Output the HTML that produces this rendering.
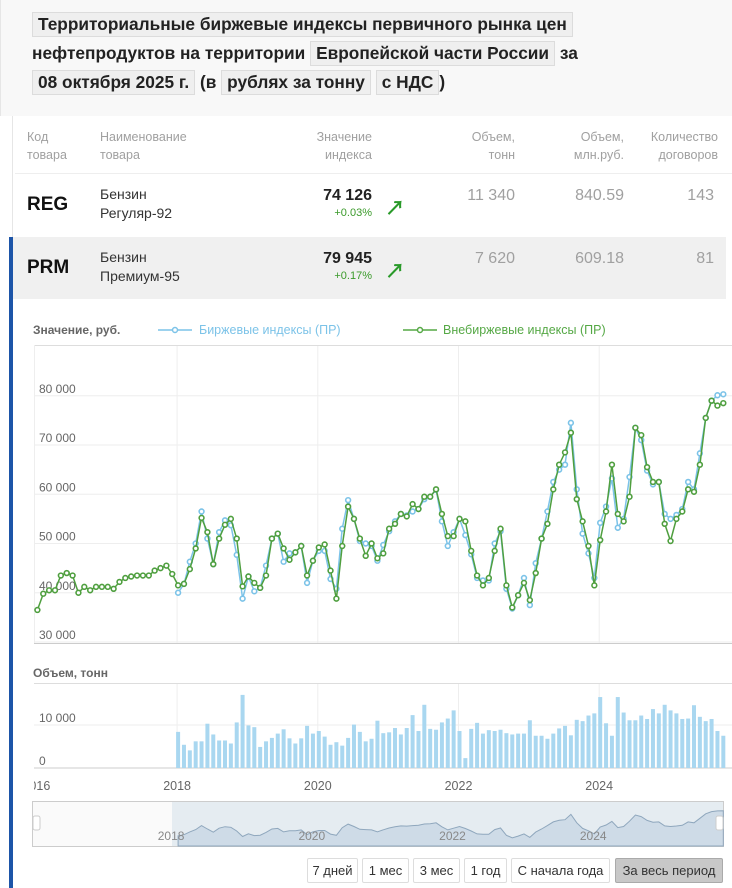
<!DOCTYPE html>
<html><head><meta charset="utf-8">
<style>
*{margin:0;padding:0;box-sizing:border-box}
body{width:732px;height:888px;overflow:hidden;background:#fff;font-family:"Liberation Sans","Noto Sans CJK SC",sans-serif;position:relative}
.abs{position:absolute}
.hdr{left:0;top:0;width:732px;height:116px;background:#f8f8f8;border-left:1px solid #e6e6e6}
.line{position:absolute;left:32px;font-size:17.3px;font-weight:bold;color:#222;white-space:nowrap;letter-spacing:0}
.box{display:inline-block;background:#efefef;border:1px solid #dcdcdc;padding:1px 5px}
.th{font-size:12.5px;color:#a0a0a0;line-height:18px}
.r{text-align:right}
.num{font-size:16px;color:#a0a0a0}
.btn{position:absolute;top:858px;height:25px;border:1px solid #ddd;background:#fff;font-size:13px;color:#333;text-align:center;line-height:23px;border-radius:2px}
</style></head><body>
<div class="abs hdr"></div>
<div class="line" style="top:12px"><span class="box">Территориальные биржевые индексы первичного рынка цен</span></div>
<div class="line" style="top:41px">нефтепродуктов на территории <span class="box">Европейской части России</span> за</div>
<div class="line" style="top:70px"><span class="box">08 октября 2025 г.</span> (в <span class="box">рублях за тонну</span> <span class="box">с НДС</span>)</div>

<div class="abs" style="left:12px;top:116px;width:1px;height:121px;background:#e6e6e6"></div>
<div class="abs" style="left:9px;top:237px;width:4px;height:651px;background:#1d55a8"></div>

<div class="abs th" style="left:27px;top:128px">Код<br>товара</div>
<div class="abs th" style="left:100px;top:128px">Наименование<br>товара</div>
<div class="abs th r" style="left:272px;width:100px;top:128px">Значение<br>индекса</div>
<div class="abs th r" style="left:415px;width:100px;top:128px">Объем,<br>тонн</div>
<div class="abs th r" style="left:524px;width:100px;top:128px">Объем,<br>млн.руб.</div>
<div class="abs th r" style="left:618px;width:100px;top:128px">Количество<br>договоров</div>
<div class="abs" style="left:15px;top:173px;width:717px;height:1px;background:#eee"></div>

<div class="abs" style="left:15px;top:174px;width:711px;height:62px">
<div class="abs" style="left:12px;top:20px;font-size:19px;font-weight:bold;color:#111">REG</div>
<div class="abs" style="left:85px;top:11px;font-size:14px;color:#333;line-height:19px">Бензин<br>Регуляр-92</div>
<div class="abs r" style="left:257px;width:100px;top:13px;font-size:16px;font-weight:bold;color:#222">74 126</div>
<div class="abs r" style="left:257px;width:100px;top:33px;font-size:11px;color:#3a9a2a">+0.03%</div>
<div class="abs" style="left:370px;top:18px;font-size:20px;font-weight:bold;color:#2a9a2a">&#8599;</div>
<div class="abs r num" style="left:400px;width:100px;top:13px">11 340</div>
<div class="abs r num" style="left:509px;width:100px;top:13px">840.59</div>
<div class="abs r num" style="left:599px;width:100px;top:13px">143</div>
</div>
<div class="abs" style="left:13px;top:237px;width:713px;height:62px;background:#f0f0f0">
<div class="abs" style="left:14px;top:20px;font-size:19px;font-weight:bold;color:#111">PRM</div>
<div class="abs" style="left:87px;top:11px;font-size:14px;color:#333;line-height:19px">Бензин<br>Премиум-95</div>
<div class="abs r" style="left:259px;width:100px;top:13px;font-size:16px;font-weight:bold;color:#222">79 945</div>
<div class="abs r" style="left:259px;width:100px;top:33px;font-size:11px;color:#3a9a2a">+0.17%</div>
<div class="abs" style="left:372px;top:18px;font-size:20px;font-weight:bold;color:#2a9a2a">&#8599;</div>
<div class="abs r num" style="left:402px;width:100px;top:13px">7 620</div>
<div class="abs r num" style="left:511px;width:100px;top:13px">609.18</div>
<div class="abs r num" style="left:601px;width:100px;top:13px">81</div>
</div>

<svg id="chart" class="abs" style="left:0;top:0" width="732" height="888" font-family="Liberation Sans, sans-serif">
<defs><clipPath id="plotclip"><rect x="34" y="300" width="698" height="500"/></clipPath></defs>
</svg>

<div class="btn" style="left:307px;width:51px">7 дней</div>
<div class="btn" style="left:362px;width:47px">1 мес</div>
<div class="btn" style="left:413px;width:47px">3 мес</div>
<div class="btn" style="left:464px;width:43px">1 год</div>
<div class="btn" style="left:511px;width:99px">С начала года</div>
<div class="btn" style="left:615px;width:108px;background:#c8c8c8;border-color:#aaa">За весь период</div>

<script>
// Monthly series, Jan 2016 .. Oct 2025
const startYear = 2016;
const otcValues = [36.5,39.8,40.5,40.5,43.5,44,43.5,40,41.2,40.5,41.2,41.2,
41.2,40.8,42.2,43,43.3,43.5,43.5,43.5,44.5,45,45.5,43.8,
41.5,41.8,44.8,49,55.2,52.3,45.8,51,53.8,55,51,41.3,
43.3,42,41,43.5,51,52,49,46.7,48.2,49.5,43.5,46.5,
49.2,49.8,44.5,38.8,49.5,57.5,55,51,47.5,50,47,48,
53,54,56,55.5,58,57,59.5,59.5,61,56,51.5,51.5,
55,54.5,48.5,43.5,41.5,43,48.5,53,41.5,37,39.5,42,
38.5,44,51,54,61,66,68.5,72.5,59,54.5,49.5,41.5,
50.7,56.5,66,56,54.5,59.5,73.5,72,65.5,62.5,62.5,54,
50.5,55,56.5,61,60.5,66,75.5,79,78,78.5];
const exchValues = [null,null,null,null,null,null,null,null,null,null,null,null,
null,null,null,null,null,null,null,null,null,null,null,null,
40,41.8,46.3,50,56.5,51,45.8,52.3,54.7,53.7,47.7,38.8,
43.3,40.3,41,45.5,51,52,46.3,48,48.2,49.5,42,46.5,
48.5,48.5,42.8,40.8,53,58.8,55,50.5,50,49.5,46.5,49.7,
52.5,54.5,56,55.7,56.5,57,59,59.5,60.9,54.5,49.5,52.3,
55,51.7,47.8,43,42.5,42.5,50,52.5,40.8,36.8,39.5,43,
37.5,46,51,56.5,62.5,65,66,74.5,61,52,48,43,
54.2,57.5,63.2,53.2,55,63.5,73.5,71,64.8,62,62.5,56,
55,55.8,57,62.5,61,68.3,75.5,79,80.1,80.3];
// Volume, thousand tonnes, monthly from Jan 2018
const volStartIndex = 24;
const volValues = [8.4,5.4,4.1,6.2,6.2,10.3,7.8,6.4,6.4,5.7,10.6,17,
9.9,9.5,4.9,6.2,7,8,9,6.9,5.7,6.9,9.8,8,
8.6,7.3,5.4,6,5.2,7,10.1,8.4,6.2,6.8,11,8.1,
8.3,9.3,7.8,9.3,12.3,8.6,14.7,9.1,8.9,10.6,11.5,13.4,
8.6,2.3,9.1,10.5,8,8.8,8.6,8.9,8.1,7.8,8,8,
11.1,7.5,7.5,6.8,8,9.2,9.8,7.6,11.2,10.9,12.2,12.7,
16.5,10.4,7.5,16.5,12.9,11.1,11.1,12.2,11.4,13.7,12.7,14.7,
13.4,12.7,11.4,11.5,14.6,11.9,10.9,11.4,8.6,7.5];
const priceTicks = [30,40,50,60,70,80];
const priceTickLabels = ["30 000","40 000","50 000","60 000","70 000","80 000"];
const yearTicks = [2016,2018,2020,2022,2024];
const volTicks = [0,10];
const volTickLabels = ["0","10 000"];

const svg = document.getElementById('chart');
const NS = 'http://www.w3.org/2000/svg';
function mk(tag, attrs, parent){const e=document.createElementNS(NS,tag);for(const k in attrs)e.setAttribute(k,attrs[k]);(parent||svg).appendChild(e);return e;}
const xT = t => 36.4 + (t - startYear) * 70.35;
const xM = i => xT(startYear + i/12) + 1;
const yP = v => 642 - (v - 30) * 4.925;
const yV = v => 768 - v * 4.3;
const L = 34, R = 732;

mk('line',{x1:L,x2:R,y1:345.5,y2:345.5,stroke:'#ddd'});
mk('line',{x1:L+0.5,x2:L+0.5,y1:345,y2:644,stroke:'#eee'});
mk('line',{x1:L,x2:R,y1:643.5,y2:643.5,stroke:'#ccc'});
priceTicks.forEach((v,i)=>{
  const g=mk('line',{x1:L,x2:R,y1:yP(v),y2:yP(v),stroke:'#eeeeee'});
  
  
  const t=mk('text',{x:39,y:yP(v)-3,'font-size':12,fill:'#666'});
  t.textContent=priceTickLabels[i];
  
  
});
yearTicks.forEach(yr=>{
  if(yr===2016) return;
  mk('line',{x1:xT(yr),x2:xT(yr),y1:346,y2:643,stroke:'#eeeeee'});
  mk('line',{x1:xT(yr),x2:xT(yr),y1:684,y2:768,stroke:'#eeeeee'});
});
let t=mk('text',{x:33,y:334,'font-size':12,'font-weight':'bold',fill:'#666'});t.textContent='Значение, руб.';


mk('line',{x1:158,x2:192,y1:330,y2:330,stroke:'#7cc3e8','stroke-width':1.5});
mk('circle',{cx:175,cy:330,r:2.5,fill:'#fff',stroke:'#7cc3e8','stroke-width':1.5});
t=mk('text',{x:199,y:334,'font-size':12.5,fill:'#7cc3e8'});t.textContent='Биржевые индексы (ПР)';


mk('line',{x1:403,x2:437,y1:330,y2:330,stroke:'#55a845','stroke-width':1.5});
mk('circle',{cx:420,cy:330,r:2.5,fill:'#fff',stroke:'#55a845','stroke-width':1.5});
t=mk('text',{x:443,y:334,'font-size':12.5,fill:'#55a845'});t.textContent='Внебиржевые индексы (ПР)';



function drawSeries(vals,color,name){
  let d='';let pen=false;
  vals.forEach((v,i)=>{ if(v==null){pen=false;return;} d+=(pen?'L':'M')+xM(i).toFixed(1)+' '+yP(v).toFixed(1); pen=true;});
  const p=mk('path',{d:d,fill:'none',stroke:color,'stroke-width':1.5});
  
  
  vals.forEach((v,i)=>{ if(v==null)return;
    const c=mk('circle',{cx:xM(i),cy:yP(v),r:2.4,fill:'#fff',stroke:color,'stroke-width':1.6});
    
    
  });
}
drawSeries(exchValues,'#7cc3e8','exchange-index');
drawSeries(otcValues,'#4f9f3f','otc-index');

t=mk('text',{x:33,y:677,'font-size':12,'font-weight':'bold',fill:'#666'});t.textContent='Объем, тонн';


mk('line',{x1:L,x2:R,y1:683.5,y2:683.5,stroke:'#ddd'});
volTicks.forEach((v,i)=>{
  mk('line',{x1:L,x2:R,y1:yV(v),y2:yV(v),stroke:v?'#eeeeee':'#ccc'});
  const tt=mk('text',{x:39,y:yV(v)-3,'font-size':12,fill:'#666'});tt.textContent=volTickLabels[i];
  
  
});
volValues.forEach((v,i)=>{
  const x=xM(volStartIndex+i);
  const b=mk('rect',{x:x-2,y:yV(v),width:4,height:768-yV(v),fill:'#a9d7f0'});
  
  
});
yearTicks.forEach(yr=>{
  const tt=mk('text',{x:xT(yr),y:790,'font-size':12.5,fill:'#666','text-anchor':'middle','clip-path':'url(#plotclip)'});tt.textContent=String(yr);
  
  
});
mk('rect',{x:32.5,y:801.5,width:691,height:45,fill:'#fafafa',stroke:'#ccc'});
const nY = v => 842 - (v-30)*0.62;
mk('rect',{x:172,y:802,width:551,height:44,fill:'#d4e0ea','fill-opacity':0.55});
let nd='M'+xM(24).toFixed(1)+' 846';
exchValues.forEach((v,i)=>{ if(v==null)return; nd+='L'+xM(i).toFixed(1)+' '+nY(v).toFixed(1);});
nd+='L'+xM(117).toFixed(1)+' 846Z';
const na=mk('path',{d:nd,fill:'#c5d4e2','fill-opacity':0.7,stroke:'#8fa7bd','stroke-width':1});


yearTicks.forEach(yr=>{ if(yr===2016)return;
  const tt=mk('text',{x:xT(yr)-6,y:840,'font-size':12,fill:'#888','text-anchor':'middle'});tt.textContent=String(yr);
});
const h1=mk('rect',{x:33,y:816,width:7,height:14,rx:2,fill:'#fff',stroke:'#ccc'});


const h2=mk('rect',{x:716,y:816,width:7,height:14,rx:2,fill:'#fff',stroke:'#ccc'});


</script>
</body></html>
